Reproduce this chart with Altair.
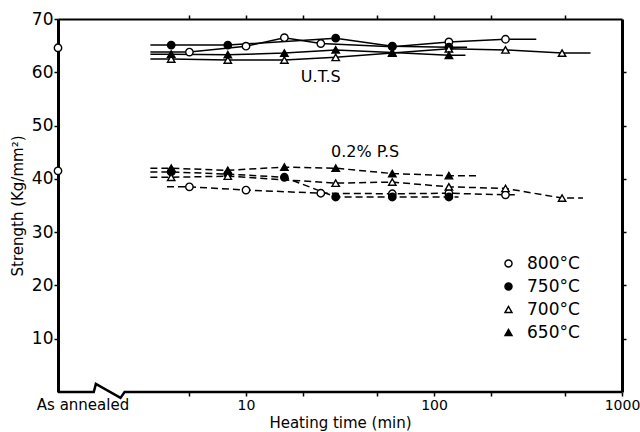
import altair as alt
import pandas as pd

temps = ["800°C", "750°C", "700°C", "650°C"]
shape_range = ["circle", "circle", "triangle-up", "triangle-up"]
fill_range = ["white", "black", "white", "black"]
stroke_range = ["black", "black", "black", "black"]

# U.T.S (solid lines)
uts_times = {
    "800°C": [5, 10, 16, 25, 60, 120, 240],
    "750°C": [4, 8, 30, 60, 120],
    "700°C": [4, 8, 16, 30, 60, 120, 240, 480],
    "650°C": [4, 8, 16, 30, 60, 120],
}
uts_vals = {
    "800°C": [63.8, 64.9, 66.5, 65.4, 64.8, 65.7, 66.2],
    "750°C": [65.1, 65.1, 66.4, 64.9, 64.7],
    "700°C": [62.5, 62.3, 62.3, 62.8, 63.6, 64.4, 64.2, 63.6],
    "650°C": [63.4, 63.3, 63.6, 64.2, 63.7, 63.2],
}
uts_line_start = {"800°C": 3.1, "750°C": 3.1, "700°C": 3.1, "650°C": 3.1}
uts_line_end = {"800°C": 350, "750°C": 150, "700°C": 680, "650°C": 147}

# 0.2% P.S (dashed lines)
ps_times = {
    "800°C": [5, 10, 25, 60, 120, 240],
    "750°C": [4, 8, 16, 30, 60, 120],
    "700°C": [4, 8, 30, 60, 120, 240, 480],
    "650°C": [4, 8, 16, 30, 60, 120],
}
ps_vals = {
    "800°C": [38.5, 37.9, 37.3, 37.2, 37.3, 37.0],
    "750°C": [41.3, 40.9, 40.3, 36.6, 36.6, 36.6],
    "700°C": [40.3, 40.5, 39.2, 39.4, 38.5, 38.2, 36.4],
    "650°C": [42.0, 41.6, 42.2, 42.0, 41.0, 40.6],
}
ps_line_start = {"800°C": 3.8, "750°C": 3.1, "700°C": 3.1, "650°C": 3.1}
ps_line_end = {"800°C": 270, "750°C": 135, "700°C": 620, "650°C": 170}

# as-annealed values (plotted on the y axis, t = 1)
annealed_t = [1, 1]
annealed_vals = [64.6, 41.5]

# annotations
note_labels = ["U.T.S", "0.2% P.S"]
note_t = [25, 43]
note_v = [59.1, 45.0]

# bottom axis with break symbol
axis_line_t = [1, 1.55, 1.59, 2.15, 2.26, 1000]
axis_line_v = [0, 0, 1.5, -1.1, 0, 0]

pts, lns = [], []
for prop, times, vals, starts, ends in [
    ("UTS", uts_times, uts_vals, uts_line_start, uts_line_end),
    ("PS", ps_times, ps_vals, ps_line_start, ps_line_end),
]:
    for temp in temps:
        for t, v in zip(times[temp], vals[temp]):
            pts.append(dict(prop=prop, temp=temp, t=t, v=v))
        ts = [starts[temp]] + times[temp] + [ends[temp]]
        vs = [vals[temp][0]] + vals[temp] + [vals[temp][-1]]
        for t, v in zip(ts, vs):
            lns.append(dict(prop=prop, temp=temp, key=prop + temp, t=t, v=v))

pts_df = pd.DataFrame(pts)
lns_df = pd.DataFrame(lns)
ann_df = pd.DataFrame({"t": annealed_t, "v": annealed_vals})
note_df = pd.DataFrame({"label": note_labels, "t": note_t, "v": note_v})
axis_df = pd.DataFrame({"t": axis_line_t, "v": axis_line_v, "i": list(range(len(axis_line_t)))})
aa_df = pd.DataFrame({"label": ["As annealed"], "t": [1], "v": [0]})

xs = alt.Scale(type="log", domain=[1, 1000], nice=False)
ys = alt.Scale(domain=[0, 70], nice=False, zero=False)
FONT = "DejaVu Sans"

xn = alt.X("t:Q", scale=xs, axis=None)
yn = alt.Y("v:Q", scale=ys, axis=None)

uts_lines = alt.Chart(lns_df).transform_filter("datum.prop == 'UTS'").mark_line(
    color="black", strokeWidth=1.5
).encode(x=xn, y=yn, detail="key:N")

ps_lines = alt.Chart(lns_df).transform_filter("datum.prop == 'PS'").mark_line(
    color="black", strokeWidth=1.5, strokeDash=[7, 4]
).encode(x=xn, y=yn, detail="key:N")

bottom_axis = alt.Axis(
    orient="bottom", values=[5, 10, 20, 50, 100, 200, 500, 1000],
    labelExpr="(datum.value == 10 || datum.value == 100 || datum.value == 1000) ? format(datum.value, 'd') : ''",
    domain=False, tickSize=4, tickWidth=1.5, tickColor="black",
    labelFontSize=14, labelColor="black", labelFont=FONT, labelFlush=False,
    labelOverlap=False, labelPadding=2, grid=False,
    title="Heating time (min)", titleFontSize=15, titleFont=FONT,
    titleFontWeight="normal", titleColor="black", titlePadding=3,
)
left_axis = alt.Axis(
    orient="left", values=[10, 20, 30, 40, 50, 60, 70],
    domainWidth=3, domainColor="black", tickSize=4, tickWidth=1.5, tickColor="black",
    labelFontSize=17, labelColor="black", labelFont=FONT, labelPadding=1, grid=False,
    title="Strength (Kg/mm²)", titleFontSize=15, titleFont=FONT,
    titleFontWeight="normal", titleColor="black", titlePadding=6,
)
top_axis = alt.Axis(
    orient="top", values=[5, 10, 20, 50, 100, 200, 500],
    labels=False, domainWidth=2, domainColor="black", tickSize=4, tickWidth=1.5,
    tickColor="black", grid=False, title=None,
)
right_axis = alt.Axis(
    orient="right", values=[10, 20, 30, 40, 50, 60],
    labels=False, domainWidth=3, domainColor="black", tickSize=4, tickWidth=1.5,
    tickColor="black", grid=False, title=None,
)

legend = alt.Legend(
    title=None, orient="none", legendX=442, legendY=236, padding=0,
    labelFontSize=17, labelFont=FONT, labelColor="black", labelOffset=10,
    symbolSize=50, symbolStrokeColor="black", symbolStrokeWidth=1.4, rowPadding=5,
)

points = alt.Chart(pts_df).mark_point(
    filled=True, stroke="black", strokeWidth=1.4, size=55, opacity=1
).encode(
    x=alt.X("t:Q", scale=xs, axis=bottom_axis),
    y=alt.Y("v:Q", scale=ys, axis=left_axis),
    shape=alt.Shape("temp:N", scale=alt.Scale(domain=temps, range=shape_range), legend=legend),
    fill=alt.Fill("temp:N", scale=alt.Scale(domain=temps, range=fill_range), legend=legend),
    stroke=alt.Stroke("temp:N", scale=alt.Scale(domain=temps, range=stroke_range), legend=legend),
)

annealed = alt.Chart(ann_df).mark_point(
    shape="circle", filled=True, fill="white", stroke="black", strokeWidth=1.4, size=55, opacity=1
).encode(
    x=alt.X("t:Q", scale=xs, axis=top_axis),
    y=alt.Y("v:Q", scale=ys, axis=right_axis),
)

bottom_line = alt.Chart(axis_df).mark_line(color="black", strokeWidth=2.5).encode(
    x=xn, y=yn, order="i:Q"
)

notes = alt.Chart(note_df).mark_text(fontSize=16, font=FONT, color="black").encode(
    x=xn, y=yn, text="label:N"
)

as_annealed = alt.Chart(aa_df).mark_text(
    fontSize=15, font=FONT, color="black", dx=25, dy=13, align="center", baseline="middle"
).encode(x=xn, y=yn, text="label:N")

chart = alt.layer(
    uts_lines, ps_lines, bottom_line, points, annealed, notes, as_annealed
).resolve_axis(x="independent", y="independent").properties(
    width=564, height=373,
    autosize=alt.AutoSizeParams(type="none"),
    padding={"left": 58, "top": 19, "right": 18, "bottom": 40},
    background="white",
).configure_view(stroke="transparent")

chart.save("out.html", embed_options={"renderer": "svg", "actions": False})
